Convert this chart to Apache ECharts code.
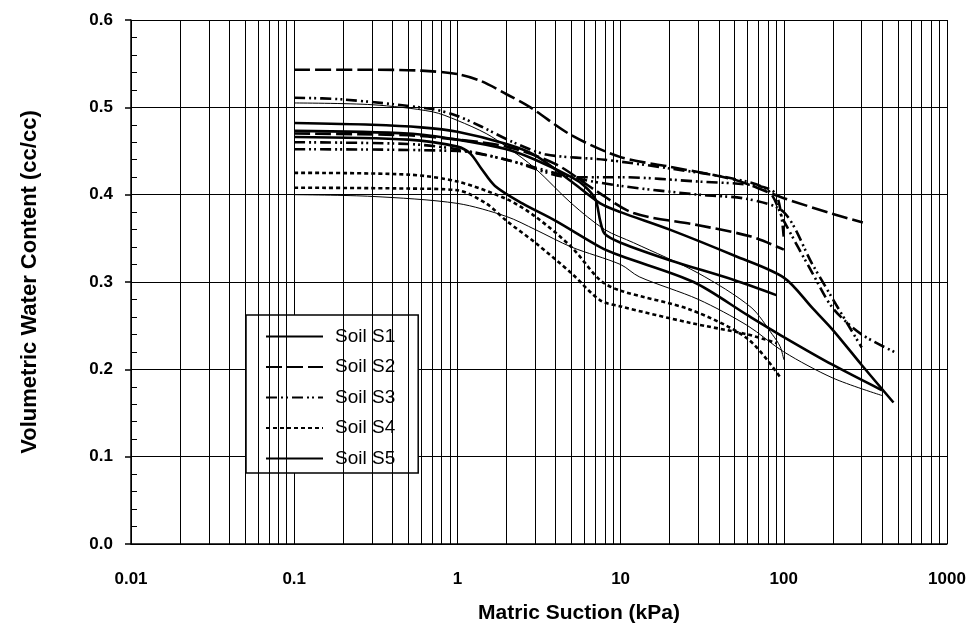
<!DOCTYPE html>
<html>
<head>
<meta charset="utf-8">
<script src="https://cdn.jsdelivr.net/npm/echarts@6/dist/echarts.min.js"></script>
<style>
  html, body { margin: 0; background: #fff; }
  #chart { width: 978px; height: 639px; }
</style>
</head>
<body>
<div id="chart"></div>
<script>
// suction (kPa), volumetric water content (cc/cc)
const s1a = [[0.1,0.482],[0.3,0.48],[0.6,0.477],[1,0.472],[2,0.458],[3,0.445],[5,0.415],[7.5,0.39],[10,0.38],[20,0.36],[50,0.33],[100,0.305],[150,0.27],[200,0.245],[300,0.205],[470,0.162]];
const s1b = [[0.1,0.473],[0.5,0.47],[1,0.463],[2,0.452],[3,0.44],[5,0.42],[6,0.41],[7,0.395],[7.5,0.37],[8,0.355],[10,0.345],[20,0.325],[50,0.302],[90,0.285]];
const s1c = [[0.1,0.466],[0.5,0.463],[1,0.455],[1.2,0.447],[1.4,0.43],[1.7,0.41],[2.5,0.39],[4,0.37],[7.5,0.34],[10,0.33],[28,0.3],[60,0.262],[100,0.237],[200,0.205],[400,0.176]];
const s2a = [[0.1,0.543],[0.3,0.543],[0.6,0.542],[1,0.538],[1.4,0.53],[2,0.515],[2.8,0.5],[5,0.468],[10,0.443],[20,0.432],[50,0.417],[100,0.396],[200,0.378],[305,0.368]];
const s2b = [[0.1,0.47],[0.5,0.468],[1,0.463],[2,0.455],[4,0.435],[7,0.405],[12,0.379],[30,0.365],[63,0.352],[100,0.337]];
const s3a = [[0.1,0.511],[0.2,0.509],[0.7,0.498],[1,0.49],[1.4,0.478],[2.2,0.46],[3.5,0.446],[8,0.44],[20,0.43],[50,0.418],[80,0.405],[100,0.37],[150,0.31],[200,0.27],[300,0.24],[500,0.218]];
const s3b = [[0.1,0.46],[0.5,0.458],[1,0.452],[2,0.44],[5,0.42],[10,0.41],[30,0.4],[60,0.395],[100,0.38],[150,0.32],[300,0.225]];
const s3c = [[0.1,0.452],[1,0.45],[2,0.44],[5,0.42],[10,0.42],[30,0.415],[70,0.41],[90,0.4],[100,0.35]];
const s4a = [[0.1,0.425],[0.5,0.423],[1,0.415],[2,0.395],[3,0.375],[5,0.34],[7.5,0.302],[10,0.29],[27,0.268],[60,0.235],[95,0.191]];
const s4b = [[0.1,0.408],[0.5,0.407],[1,0.405],[1.5,0.39],[2,0.37],[3,0.345],[5,0.31],[7.5,0.279],[10,0.272],[27,0.253],[60,0.24],[90,0.23]];
const s5a = [[0.1,0.40],[0.3,0.398],[1,0.39],[2,0.375],[3,0.36],[5,0.34],[10,0.32],[13,0.306],[30,0.28],[60,0.25],[100,0.22],[200,0.19],[400,0.17]];
const s5b = [[0.1,0.505],[0.3,0.503],[0.7,0.495],[1,0.485],[1.5,0.47],[2,0.455],[3,0.43],[5,0.39],[8,0.36],[12,0.345],[30,0.31],[63,0.271],[85,0.24],[95,0.226],[100,0.211]];

const soilNames = ['Soil S1', 'Soil S2', 'Soil S3', 'Soil S4', 'Soil S5'];
const minorX = [0.02,0.03,0.04,0.05,0.06,0.07,0.08,0.09,
  0.2,0.3,0.4,0.5,0.6,0.7,0.8,0.9,
  2,3,4,5,6,7,8,9,
  20,30,40,50,60,70,80,90,
  200,300,400,500,600,700,800,900];

const styles = {
  'Soil S1': { width: 2.6, type: 'solid' },
  'Soil S2': { width: 2.6, type: [16, 5] },
  'Soil S3': { width: 2.6, type: [11, 4, 2, 3, 2, 4] },
  'Soil S4': { width: 2.6, type: [4, 3] },
  'Soil S5': { width: 1, type: 'solid' }
};

const curves = [
  ['Soil S1', s1a], ['Soil S2', s2a], ['Soil S3', s3a], ['Soil S4', s4a], ['Soil S5', s5a],
  ['Soil S1', s1b], ['Soil S1', s1c], ['Soil S2', s2b], ['Soil S3', s3b], ['Soil S3', s3c],
  ['Soil S4', s4b], ['Soil S5', s5b]
];

const chart = echarts.init(document.getElementById('chart'));

const series = curves.map(([name, data]) => ({
  name: name,
  type: 'line',
  data: data,
  smooth: 0.3,
  symbol: 'none',
  silent: true,
  itemStyle: { color: '#000' },
  lineStyle: { color: '#000', width: styles[name].width, type: styles[name].type }
}));

// vertical log grid lines between decades
series.push({
  name: 'grid',
  type: 'line',
  data: [],
  silent: true,
  markLine: {
    silent: true,
    symbol: 'none',
    label: { show: false },
    lineStyle: { color: '#000', width: 1, type: 'solid' },
    data: minorX.map((v) => ({ xAxis: v }))
  }
});

const labelFont = { color: '#000', fontSize: 17, fontWeight: 'bold', fontFamily: 'Liberation Sans' };

const option = {
  backgroundColor: '#fff',
  animation: false,
  grid: { left: 131, right: 31, top: 20, bottom: 95 },
  legend: {
    data: soilNames,
    orient: 'vertical',
    left: 246,
    top: 315,
    itemWidth: 57,
    itemHeight: 12,
    itemGap: 11.5,
    padding: [12, 23, 5, 19],
    borderColor: '#000',
    borderWidth: 1.5,
    backgroundColor: '#fff',
    selectedMode: false,
    itemStyle: { opacity: 0 },
    textStyle: { color: '#000', fontSize: 19, lineHeight: 19, fontFamily: 'Liberation Sans', padding: [0, 0, 0, 7] }
  },
  xAxis: {
    type: 'log',
    logBase: 10,
    min: 0.01,
    max: 1000,
    name: 'Matric Suction (kPa)',
    nameLocation: 'middle',
    nameGap: 59,
    nameTextStyle: { color: '#000', fontSize: 21, fontWeight: 'bold', fontFamily: 'Liberation Sans', padding: [0, 0, 0, 80] },
    axisLine: { lineStyle: { color: '#000', width: 1.5 } },
    axisTick: { show: false },
    axisLabel: Object.assign({ margin: 27, formatter: (v) => String(Number(v.toPrecision(3))) }, labelFont),
    splitLine: { show: true, lineStyle: { color: '#000', width: 1 } }
  },
  yAxis: [{
    type: 'value',
    min: 0,
    max: 0.6,
    interval: 0.1,
    name: 'Volumetric Water Content (cc/cc)',
    nameLocation: 'middle',
    nameGap: 90,
    nameTextStyle: { color: '#000', fontSize: 22, fontWeight: 'bold', fontFamily: 'Liberation Sans' },
    axisLine: { show: true, lineStyle: { color: '#000', width: 1.5 } },
    axisTick: { show: true, inside: true, length: 6, lineStyle: { color: '#000' } },
    minorTick: { show: true, splitNumber: 5, length: 6, lineStyle: { color: '#000', width: 1 } },
    axisLabel: Object.assign({ margin: 18, formatter: (v) => v.toFixed(1) }, labelFont),
    splitLine: { show: true, lineStyle: { color: '#000', width: 1 } }
  }, {
    // outward major ticks on the left edge
    type: 'value',
    position: 'left',
    min: 0,
    max: 0.6,
    interval: 0.1,
    axisLine: { show: false },
    axisTick: { show: true, inside: false, length: 6, lineStyle: { color: '#000', width: 1.5 } },
    axisLabel: { show: false },
    splitLine: { show: false }
  }],
  series: series
};

chart.setOption(option);
</script>
</body>
</html>
